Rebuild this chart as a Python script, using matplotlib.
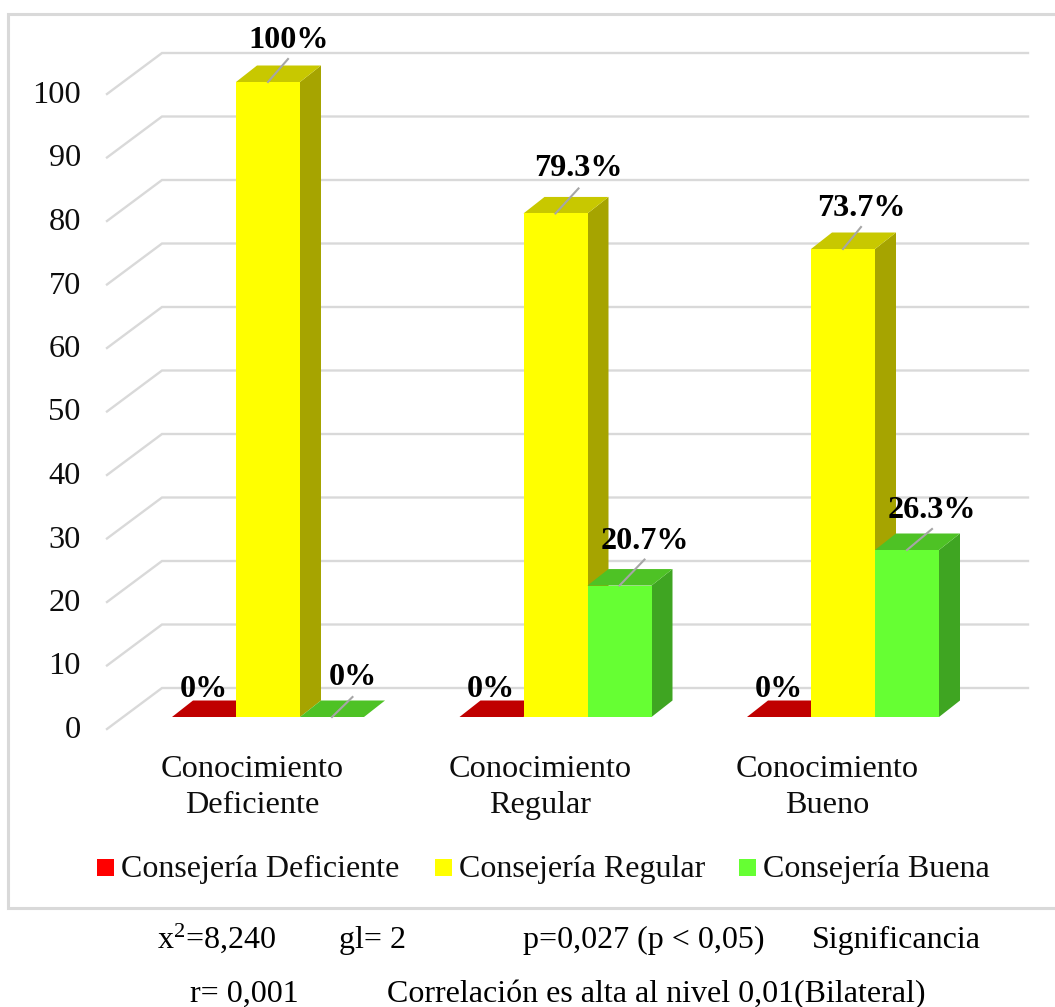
import matplotlib
matplotlib.use("Agg")
import matplotlib.pyplot as plt
from matplotlib.patches import Polygon, Rectangle

plt.rcParams['font.family'] = ['Liberation Serif', 'DejaVu Serif']
plt.rcParams['mathtext.fontset'] = 'custom'
plt.rcParams['mathtext.rm'] = 'Liberation Serif'
plt.rcParams['mathtext.it'] = 'Liberation Serif:italic'
plt.rcParams['mathtext.default'] = 'regular'

categories = ["Conocimiento\nDeficiente", "Conocimiento\nRegular", "Conocimiento\nBueno"]
series_names = ["Consejería Deficiente", "Consejería Regular", "Consejería Buena"]
deficiente = [0, 0, 0]
regular = [100, 79.3, 73.7]
buena = [0, 20.7, 26.3]
label_deficiente = ["0%", "0%", "0%"]
label_regular = ["100%", "79.3%", "73.7%"]
label_buena = ["0%", "20.7%", "26.3%"]
ticks = list(range(0, 101, 10))

W, H = 1055, 1007
PX_X, PX_Y = 287.5, 6.35      # pixels per category / per percent
X0, Y0 = 268, 717             # pixel of category 0 centre, value 0
fig = plt.figure(figsize=(W / 100, H / 100), dpi=100)
ax = fig.add_axes([0, 0, 1, 1])
ax.set_xlim(-X0 / PX_X, (W - X0) / PX_X)
ax.set_ylim((Y0 - H) / PX_Y, Y0 / PX_Y)
ax.axis('off')

def fx(px): return (px - X0) / PX_X
def fy(py): return (Y0 - py) / PX_Y

GRID = '#D9D9D9'
TEXT = '#0d0d0d'
# outer frame
ax.plot([fx(1056), fx(8), fx(8), fx(1056)], [fy(14), fy(14), fy(908), fy(908)],
        color=GRID, lw=2.2, solid_joinstyle='miter', zorder=1)
# gridlines and tick labels
for v in ticks:
    ax.plot([fx(107), fx(162), fx(1028)],
            [v + fy(729), v + fy(688), v + fy(688)],
            color=GRID, lw=1.7, zorder=1, solid_joinstyle='miter')
    ax.text(fx(81), v + fy(738), str(v), ha='right', va='baseline',
            fontsize=23.3, color=TEXT, zorder=5)

BW = 64 / PX_X
DX, DY = 21 / PX_X, 16.5 / PX_Y
styles = [('#C00000', '#C00000', '#C00000', -1),
          ('#FFFF00', '#C8C800', '#A6A400', 0),
          ('#66FF33', '#4EC225', '#3FA522', 1)]

def bar3d(xc, v, front, top, side):
    l, r = xc - BW / 2, xc + BW / 2
    ax.add_patch(Polygon([(r, 0), (r + DX, DY), (r + DX, v + DY), (r, v)],
                         closed=True, fc=side, ec='none', zorder=3))
    ax.add_patch(Polygon([(l, v), (l + DX, v + DY), (r + DX, v + DY), (r, v)],
                         closed=True, fc=top, ec='none', zorder=3))
    ax.add_patch(Rectangle((l, 0), BW, v, fc=front, ec='none', zorder=3))

for i in range(3):
    for vals, (f, t, s, off) in zip((deficiente, regular, buena), styles):
        bar3d(i + off * BW, vals[i], f, t, s)

def leader(xc, v, dxp, dyp):
    ax.plot([xc, xc + dxp / PX_X], [v, v + dyp / PX_Y], color='#A6A6A6', lw=1.5, zorder=4)

lab_kw = dict(ha='center', va='baseline', fontsize=23.2, fontweight='bold', color='black', zorder=6)
# label offsets from the bar's top centre, in pixels
def_off = [(0, 20), (-1, 20), (-0.5, 20)]
reg_off = [(21, 34), (23, 37), (18.5, 33)]
bue_off = [(20.5, 32), (25, 37), (25, 32)]
reg_lead = [(20, 23), (23, 25), (18, 22)]
bue_lead = [(20.5, 20), (25, 26), (25, 21)]
for i in range(3):
    ax.text(i - BW + def_off[i][0] / PX_X, deficiente[i] + def_off[i][1] / PX_Y, label_deficiente[i], **lab_kw)
    leader(i, regular[i], *reg_lead[i])
    ax.text(i + reg_off[i][0] / PX_X, regular[i] + reg_off[i][1] / PX_Y, label_regular[i], **lab_kw)
    leader(i + BW, buena[i], *bue_lead[i])
    ax.text(i + BW + bue_off[i][0] / PX_X, buena[i] + bue_off[i][1] / PX_Y, label_buena[i], **lab_kw)

# category labels, one text per line on its own baseline
for i, c in enumerate(categories):
    for line, base in zip(c.split("\n"), [777, 813]):
        ax.text(i + (252.5 - 268) / PX_X, fy(base), line, ha='center', va='baseline',
                fontsize=23.2, color=TEXT)

# legend
for px, name, col in zip([97, 435, 739], series_names, ['#FF0000', '#FFFF00', '#66FF33']):
    ax.add_patch(Rectangle((fx(px), fy(876)), 17 / PX_X, 17 / PX_Y, fc=col, ec='none', zorder=5))
    ax.text(fx(px + 24), fy(877), name, ha='left', va='baseline', fontsize=23, color=TEXT)

# notes
notes = [(157, 948, "x$^{2}$=8,240"), (339, 948, "gl= 2"), (523, 948, "p=0,027 (p < 0,05)"),
         (812, 948, "Significancia"), (190, 1002, "r= 0,001"),
         (387, 1002, "Correlación es alta al nivel 0,01(Bilateral)")]
for px, py, s in notes:
    ax.text(fx(px), fy(py), s, ha='left', va='baseline', fontsize=23, color='black')

fig.savefig('out.png', dpi=100)
